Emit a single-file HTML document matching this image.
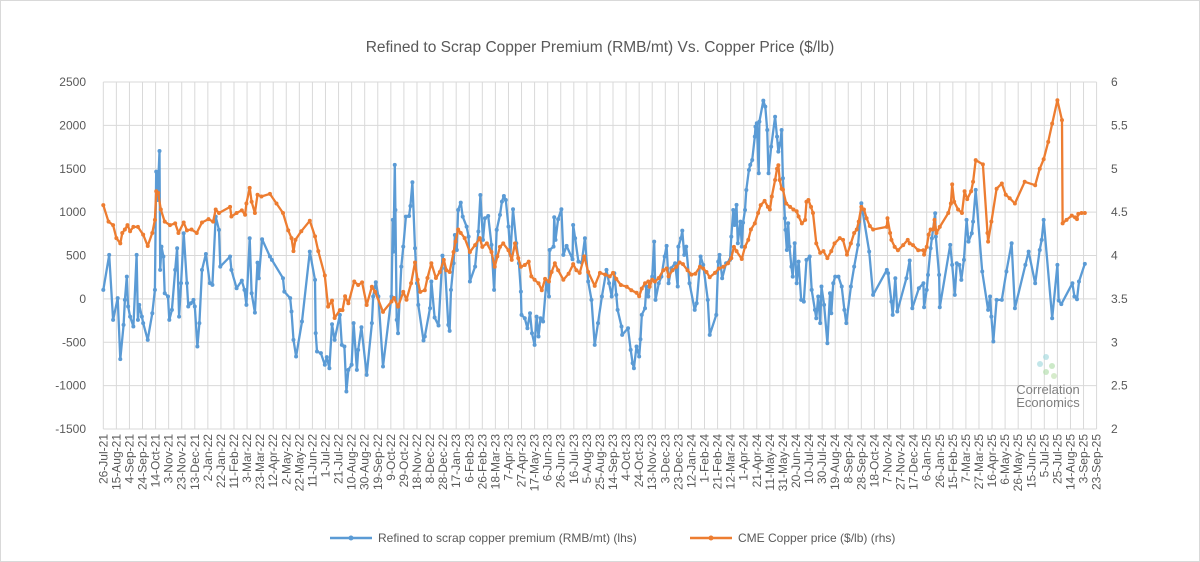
<!DOCTYPE html>
<html><head><meta charset="utf-8"><style>
html,body{margin:0;padding:0;background:#fff;}
svg{display:block;font-family:"Liberation Sans",sans-serif;}
</style></head><body>
<svg id="chart" width="1200" height="562" viewBox="0 0 1200 562" xmlns="http://www.w3.org/2000/svg">
<rect x="0.5" y="0.5" width="1199" height="561" fill="#fff" stroke="#d9d9d9"/>
<text x="600" y="52" text-anchor="middle" font-size="15.5" fill="#595959">Refined to Scrap Copper Premium (RMB/mt) Vs. Copper Price ($/lb)</text>
<g id="grid"></g>
<g id="yl"></g>
<g id="yr"></g>
<g id="xa"></g>
<g id="series"></g>
<g>
<circle cx="1046" cy="357" r="3" fill="#a8dbe0" opacity="0.7"/><circle cx="1040" cy="364" r="3" fill="#a8dbe0" opacity="0.7"/><circle cx="1052" cy="366" r="3" fill="#b7dfb0" opacity="0.7"/><circle cx="1046" cy="372" r="3" fill="#b7dfb0" opacity="0.7"/><circle cx="1054" cy="376" r="3" fill="#c5e3b5" opacity="0.7"/>
<text x="1048" y="394" text-anchor="middle" font-size="13" fill="#7f7f7f">Correlation</text>
<text x="1048" y="407" text-anchor="middle" font-size="13" fill="#7f7f7f">Economics</text>
</g>
<g>
<g>
<line x1="330" y1="538" x2="372" y2="538" stroke="#5b9bd5" stroke-width="2.5"/><circle cx="351" cy="538" r="2.5" fill="#5b9bd5"/>
<text x="378" y="542" font-size="12" fill="#595959">Refined to scrap copper premium (RMB/mt) (lhs)</text></g>
<g>
<line x1="690" y1="538" x2="732" y2="538" stroke="#ed7d31" stroke-width="2.5"/><circle cx="711" cy="538" r="2.5" fill="#ed7d31"/>
<text x="738" y="542" font-size="12" fill="#595959">CME Copper price ($/lb) (rhs)</text></g>
</g>
</svg>
<script>
const leftTicks=[-1500,-1000,-500,0,500,1000,1500,2000,2500];
const rightTicks=["2","2.5","3","3.5","4","4.5","5","5.5","6"];
const startDate="2021-07-26";
const tickStepDays=20;
const tickCount=77;
// premium (RMB/mt): day offset from 26-Jul-21, value
const premDays=[0,9,15,22,26,31,33,36,38,41,46,51,53,55,59,61,68,75,79,81,83,86,87,89,92,94,99,101,105,110,113,116,119,123,128,130,134,138,140,144,147,151,157,163,167,172,177,179,194,196,204,212,216,219,224,227,232,236,238,243,255,258,275,277,286,288,291,295,304,316,324,325,327,333,339,342,346,350,354,362,365,369,372,375,380,383,388,390,395,403,411,413,417,421,428,441,443,444,446,447,449,451,456,459,463,468,470,473,477,480,482,490,492,500,502,507,513,519,523,528,530,532,536,538,541,543,547,550,556,559,561,569,574,577,581,584,589,594,598,602,607,610,613,616,620,623,627,632,636,639,640,645,649,653,656,660,663,666,669,673,678,682,683,689,690,692,696,701,704,709,718,719,722,727,732,737,742,747,752,757,763,770,774,778,782,785,787,793,794,803,807,810,812,816,820,822,824,829,831,834,836,840,843,845,850,854,859,862,865,869,875,879,880,884,886,889,892,897,905,908,914,918,925,928,938,941,943,947,953,959,961,964,966,969,971,975,977,979,982,984,988,990,993,997,998,1000,1003,1004,1010,1013,1016,1018,1022,1028,1031,1033,1036,1038,1040,1043,1044,1046,1048,1050,1053,1055,1058,1061,1064,1068,1072,1076,1081,1084,1089,1091,1094,1097,1099,1103,1108,1112,1114,1117,1120,1125,1130,1134,1137,1144,1149,1155,1160,1172,1178,1199,1201,1206,1208,1212,1215,1229,1234,1238,1248,1255,1256,1260,1262,1266,1268,1273,1274,1279,1280,1296,1299,1303,1306,1310,1313,1317,1321,1324,1329,1331,1335,1345,1354,1357,1359,1362,1367,1375,1382,1390,1395,1411,1416,1426,1433,1436,1439,1452,1460,1462,1466,1483,1486,1490,1493,1502];
const premVals=[104,507,-242,8,-695,-300,-12,257,-88,-204,-319,507,-242,-69,-204,-280,-472,-165,104,1467,1140,1705,334,603,488,65,27,-242,-127,334,584,-204,181,757,181,-88,-50,-12,-88,-549,-280,334,518,181,161,948,795,372,488,334,123,211,104,-69,699,65,-158,418,238,688,488,449,238,84,8,-146,-472,-664,-261,545,219,-395,-607,-626,-760,-672,-799,-292,-472,-184,-530,-549,-1068,-818,-760,-280,-818,-588,-327,-876,-280,27,192,27,-780,27,910,545,1544,1025,-242,-396,372,603,948,956,1071,1344,584,180,-69,-480,-434,-108,200,-215,-307,499,353,-300,-369,104,411,737,564,1025,1110,948,833,718,200,372,776,1198,680,929,956,622,104,795,968,1121,1186,1140,833,507,1033,641,411,84,-184,-223,-338,-165,-396,-530,-204,-434,-223,-261,200,27,564,603,941,680,918,1033,507,611,457,852,699,430,418,699,200,-11,-530,-280,27,334,180,27,296,46,-127,-319,-415,-338,-588,-741,-799,-549,-664,-465,-184,-108,142,27,142,257,660,-12,180,257,488,611,180,353,411,142,603,699,787,507,603,180,-127,-50,488,392,-12,-415,-184,430,507,238,411,449,718,1025,852,1083,641,891,603,879,1025,1255,1486,1544,1601,1870,1985,2024,1448,2043,2285,2216,1947,1448,1755,2100,1870,1697,1793,1947,1390,929,795,564,872,603,372,257,641,180,430,-12,-31,449,488,104,-127,-223,27,-280,142,-69,-511,65,-165,180,257,257,142,-127,-280,142,372,622,1102,545,46,334,296,-31,-184,238,-146,238,442,-108,123,180,-96,104,276,584,699,987,718,276,-96,622,392,46,411,392,219,449,910,660,756,891,1256,315,-127,27,-204,-492,-12,-12,315,641,-108,392,545,180,564,680,910,-223,392,-19,-61,180,27,-4,200,403];
// CME copper price ($/lb)
const cuDays=[0,8,15,20,26,29,33,37,41,46,53,61,68,75,79,81,84,88,94,102,110,115,123,128,135,143,151,161,168,172,177,194,196,204,212,217,219,224,227,232,236,242,255,265,275,283,288,291,294,303,316,324,329,339,344,350,354,362,366,370,375,384,390,396,403,411,416,428,441,445,451,459,464,471,477,481,485,492,496,502,509,515,521,525,530,536,539,543,547,553,561,569,576,580,587,594,599,603,607,612,620,625,630,635,639,645,651,655,660,666,671,676,682,686,691,696,704,712,719,724,729,736,742,752,760,768,775,780,785,792,801,808,816,820,824,829,834,836,840,844,850,857,862,865,871,877,882,887,894,900,906,913,918,923,928,936,942,949,956,961,965,969,977,982,987,991,997,1002,1006,1012,1017,1020,1023,1028,1031,1033,1035,1038,1040,1045,1051,1056,1061,1064,1069,1074,1076,1079,1083,1086,1091,1097,1102,1108,1114,1119,1127,1132,1138,1144,1149,1153,1156,1160,1164,1168,1173,1178,1199,1200,1204,1206,1211,1216,1224,1231,1234,1239,1247,1255,1256,1260,1263,1266,1270,1272,1275,1280,1293,1297,1299,1302,1308,1314,1318,1322,1328,1331,1335,1346,1353,1354,1359,1367,1375,1381,1387,1395,1410,1426,1433,1439,1446,1452,1460,1467,1468,1474,1482,1487,1490,1492,1497,1502];
const cuVals=[4.58,4.39,4.35,4.20,4.14,4.26,4.30,4.35,4.28,4.33,4.33,4.24,4.11,4.26,4.41,4.74,4.72,4.53,4.39,4.35,4.37,4.26,4.38,4.29,4.30,4.26,4.38,4.42,4.39,4.53,4.49,4.56,4.45,4.49,4.52,4.47,4.60,4.78,4.62,4.49,4.70,4.68,4.71,4.60,4.49,4.29,4.20,4.05,4.18,4.28,4.40,4.22,4.05,3.77,3.41,3.48,3.28,3.37,3.37,3.53,3.45,3.70,3.66,3.69,3.43,3.64,3.58,3.35,3.47,3.51,3.41,3.58,3.49,3.68,3.92,3.72,3.58,3.60,3.74,3.91,3.74,3.81,3.95,3.83,3.81,4.04,4.16,4.30,4.26,4.20,4.04,4.12,4.20,4.10,4.14,4.04,3.87,3.99,4.10,4.14,4.06,3.95,4.14,3.97,3.87,3.89,3.93,3.76,3.72,3.68,3.60,3.73,3.70,3.81,3.91,3.83,3.72,3.79,3.90,3.83,3.80,3.99,3.81,3.65,3.80,3.78,3.76,3.80,3.73,3.66,3.64,3.60,3.57,3.53,3.62,3.68,3.70,3.64,3.72,3.70,3.74,3.83,3.85,3.76,3.83,3.87,3.92,3.90,3.83,3.78,3.79,3.87,3.85,3.81,3.75,3.80,3.85,3.87,3.91,3.97,4.10,4.05,3.96,4.10,4.18,4.30,4.37,4.49,4.58,4.63,4.56,4.53,4.68,4.87,5.00,5.04,4.87,4.77,4.76,4.60,4.56,4.53,4.51,4.45,4.37,4.41,4.62,4.64,4.56,4.49,4.14,4.03,4.05,3.97,4.05,4.14,4.20,4.18,4.01,4.14,4.26,4.30,4.39,4.56,4.53,4.43,4.34,4.30,4.33,4.43,4.26,4.18,4.10,4.06,4.12,4.18,4.14,4.12,4.06,4.06,4.01,4.10,4.24,4.30,4.30,4.41,4.26,4.33,4.49,4.60,4.82,4.62,4.53,4.49,4.74,4.65,4.74,4.85,5.10,5.05,4.26,4.16,4.39,4.77,4.83,4.70,4.66,4.60,4.85,4.81,5.00,5.11,5.31,5.52,5.79,5.56,4.37,4.41,4.46,4.44,4.42,4.48,4.49,4.49];

const NS="http://www.w3.org/2000/svg";
const X0=103.3,X1=1096.6,YT=82,YB=429,SPAN=(tickCount-1)*tickStepDays;
const xS=d=>X0+d/SPAN*(X1-X0);
const yL=v=>YB-(v-(-1500))/4000*(YB-YT);
const yR=v=>YB-(v-2)/4*(YB-YT);
function mk(tag,attrs,parent,txt){const e=document.createElementNS(NS,tag);for(const k in attrs)e.setAttribute(k,attrs[k]);if(txt!==undefined)e.textContent=txt;parent.appendChild(e);return e;}
const grid=document.getElementById('grid'),ylg=document.getElementById('yl'),yrg=document.getElementById('yr'),xa=document.getElementById('xa'),ser=document.getElementById('series');
leftTicks.forEach((t,i)=>{
  const y=yL(t);
  const l=mk('line',{x1:X0,x2:X1,y1:y,y2:y,stroke:'#d9d9d9','stroke-width':1},grid);
  
  
  const a=mk('text',{x:86,y:y+4,'text-anchor':'end','font-size':12,fill:'#595959'},ylg,String(t));
  
  
  const b=mk('text',{x:1111,y:yR(parseFloat(rightTicks[i]))+4,'font-size':12,fill:'#595959'},yrg,rightTicks[i]);
  
  
});
const mon=["Jan","Feb","Mar","Apr","May","Jun","Jul","Aug","Sep","Oct","Nov","Dec"];
const sd=new Date(startDate+"T00:00:00Z");
for(let i=0;i<tickCount;i++){
  const d=i*tickStepDays,x=xS(d);
  const dt=new Date(sd.getTime()+d*86400000);
  const lab=dt.getUTCDate()+"-"+mon[dt.getUTCMonth()]+"-"+String(dt.getUTCFullYear()).slice(2);
  const l=mk('line',{x1:x,x2:x,y1:YT,y2:YB,stroke:'#d9d9d9','stroke-width':1},grid);
  
  
  const t=mk('text',{x:0,y:0,'text-anchor':'end','font-size':12,fill:'#595959',transform:`translate(${x+4},434) rotate(-90)`},xa,lab);
  
  
}
function draw(days,vals,ys,color,name){
  const g=mk('g',{},ser);
  
  
  const pts=days.map((d,i)=>xS(d).toFixed(1)+","+ys(vals[i]).toFixed(1)).join(" ");
  const p=mk('polyline',{points:pts,fill:'none',stroke:color,'stroke-width':2.3,'stroke-linejoin':'round'},g);
  
  
  days.forEach((d,i)=>{
    const c=mk('circle',{cx:xS(d),cy:ys(vals[i]),r:2,fill:color},g);
    
    
  });
}
draw(premDays,premVals,yL,'#5b9bd5','premium-series');
draw(cuDays,cuVals,yR,'#ed7d31','copper-price-series');
</script>
</body></html>
